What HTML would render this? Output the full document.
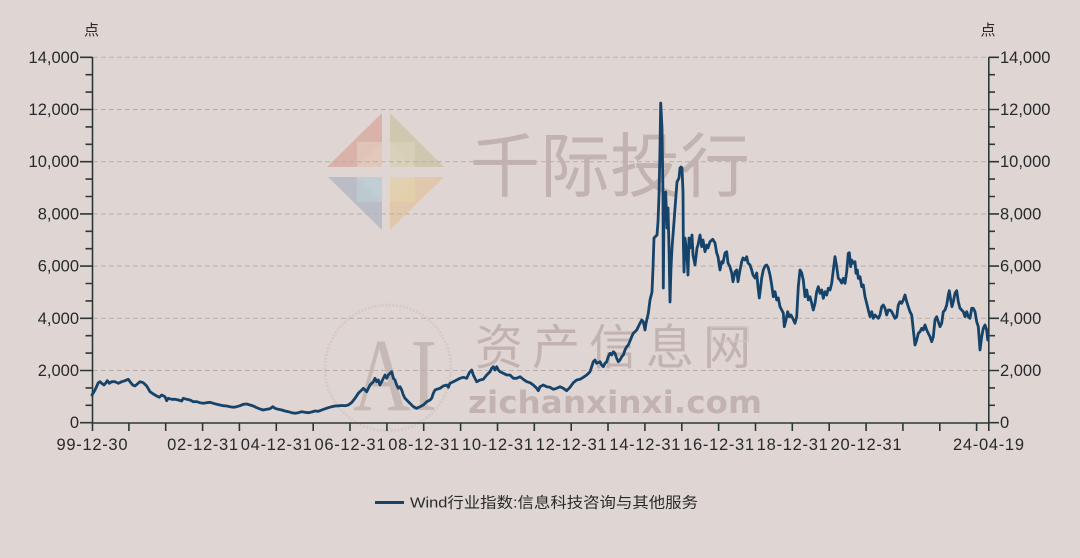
<!DOCTYPE html>
<html>
<head>
<meta charset="utf-8">
<style>
  html, body { margin:0; padding:0; background:#dfd6d3; }
  svg { display:block; }
  .ax { font-family:"Liberation Sans","Noto Sans CJK SC",sans-serif; font-size:16.5px; fill:#262a2a; }
</style>
</head>
<body>
<svg width="1080" height="558" viewBox="0 0 1080 558" xmlns="http://www.w3.org/2000/svg">
  <rect x="0" y="0" width="1080" height="558" fill="#dfd6d3"/>

  <!-- Watermark logo -->
  <g opacity="0.85">
    <polygon points="327,167 382,113 382,142 357,167" fill="#d8aca2"/>
    <rect x="357" y="142" width="25" height="25" fill="#e2c4b2" opacity="0.9"/>
    <polygon points="390,113 444,167 415,167 390,142" fill="#cdc6a8"/>
    <rect x="390" y="142" width="25" height="25" fill="#d7d0b2" opacity="0.9"/>
    <polygon points="328,177 382,230 382,202 357,177" fill="#b4b9c4"/>
    <rect x="357" y="177" width="25" height="25" fill="#b7cad1" opacity="0.9"/>
    <polygon points="444,177 390,230 390,202 415,177" fill="#e2c6a6"/>
    <rect x="390" y="177" width="25" height="25" fill="#e3cfa5" opacity="0.9"/>
  </g>
  <text x="470" y="191" font-family="'Noto Sans CJK SC','WenQuanYi Zen Hei',sans-serif" font-size="70" fill="#c3b3b0">千际投行</text>

  <!-- AI watermark -->
  <circle cx="388" cy="368" r="63" fill="none" stroke="#d0c5c2" stroke-width="3" stroke-dasharray="2,1.5" opacity="0.7"/>
  <text x="353" y="410" font-family="'Liberation Serif',serif" font-size="104" fill="#c6b8b5" textLength="84" lengthAdjust="spacingAndGlyphs">AI</text>
  <text x="475" y="364" font-family="'Noto Sans CJK SC','WenQuanYi Zen Hei',sans-serif" font-size="48" letter-spacing="9" fill="#c3b3b0">资产信息网</text>
  <text x="468" y="413" font-family="'DejaVu Sans','Liberation Sans',sans-serif" font-size="31" font-weight="bold" fill="#c3b3b0" textLength="294" lengthAdjust="spacingAndGlyphs">zichanxinxi.com</text>
  <rect x="711" y="327" width="37" height="14" fill="none" stroke="#cfc4c1" stroke-width="2" opacity="0.7"/>

  <!-- Grid lines -->
  <g stroke="#b9aeab" stroke-width="1" stroke-dasharray="5,3">
    <line x1="93" y1="57.3" x2="988" y2="57.3"/>
    <line x1="93" y1="109.5" x2="988" y2="109.5"/>
    <line x1="93" y1="161.7" x2="988" y2="161.7"/>
    <line x1="93" y1="213.9" x2="988" y2="213.9"/>
    <line x1="93" y1="266.1" x2="988" y2="266.1"/>
    <line x1="93" y1="318.3" x2="988" y2="318.3"/>
    <line x1="93" y1="370.5" x2="988" y2="370.5"/>
  </g>

  <!-- Axes -->
  <g stroke="#2c3838" stroke-width="1.6" fill="none">
    <line x1="92.5" y1="57" x2="92.5" y2="423"/>
    <line x1="988.8" y1="57" x2="988.8" y2="423"/>
    <line x1="92" y1="423" x2="989" y2="423"/>
    <path d="M80 57.3H92.5M80 109.5H92.5M80 161.7H92.5M80 213.9H92.5M80 266.1H92.5M80 318.3H92.5M80 370.5H92.5M80 422.7H92.5"/>
    <path d="M85.5 74.7H92.5M85.5 92.1H92.5M85.5 126.9H92.5M85.5 144.3H92.5M85.5 179.1H92.5M85.5 196.5H92.5M85.5 231.3H92.5M85.5 248.7H92.5M85.5 283.5H92.5M85.5 300.9H92.5M85.5 335.7H92.5M85.5 353.1H92.5M85.5 387.9H92.5M85.5 405.3H92.5"/>
    <path d="M988.8 57.3H999M988.8 109.5H999M988.8 161.7H999M988.8 213.9H999M988.8 266.1H999M988.8 318.3H999M988.8 370.5H999M988.8 422.7H999"/>
    <path d="M988.8 74.7H995M988.8 92.1H995M988.8 126.9H995M988.8 144.3H995M988.8 179.1H995M988.8 196.5H995M988.8 231.3H995M988.8 248.7H995M988.8 283.5H995M988.8 300.9H995M988.8 335.7H995M988.8 353.1H995M988.8 387.9H995M988.8 405.3H995"/>
    <path d="M92.5 423V431M128.9 423V431M165.7 423V431M202.6 423V431M239.4 423V431M276.3 423V431M313.2 423V431M350 423V431M386.9 423V431M423.7 423V431M460.6 423V431M497.5 423V431M534.3 423V431M571.2 423V431M608 423V431M644.9 423V431M681.8 423V431M718.6 423V431M755.5 423V431M792.3 423V431M829.2 423V431M866.1 423V431M902.9 423V431M939.8 423V431M976.6 423V431M988.8 423V431"/>
  </g>

  <!-- Y labels left -->
  <g class="ax" text-anchor="end">
    <text x="79" y="62.8">14,000</text>
    <text x="79" y="115">12,000</text>
    <text x="79" y="167.2">10,000</text>
    <text x="79" y="219.4">8,000</text>
    <text x="79" y="271.6">6,000</text>
    <text x="79" y="323.8">4,000</text>
    <text x="79" y="376">2,000</text>
    <text x="79" y="428.2">0</text>
  </g>
  <!-- Y labels right -->
  <g class="ax" text-anchor="start">
    <text x="1000" y="62.8">14,000</text>
    <text x="1000" y="115">12,000</text>
    <text x="1000" y="167.2">10,000</text>
    <text x="1000" y="219.4">8,000</text>
    <text x="1000" y="271.6">6,000</text>
    <text x="1000" y="323.8">4,000</text>
    <text x="1000" y="376">2,000</text>
    <text x="1000" y="428.2">0</text>
  </g>

  <!-- Units -->
  <text x="91.5" y="35" text-anchor="middle" font-family="'Noto Sans CJK SC','WenQuanYi Zen Hei',sans-serif" font-size="15" fill="#262a2a">点</text>
  <text x="988" y="35" text-anchor="middle" font-family="'Noto Sans CJK SC','WenQuanYi Zen Hei',sans-serif" font-size="15" fill="#262a2a">点</text>

  <!-- X labels -->
  <g class="ax">
    <text x="56.5" y="450" textLength="71" lengthAdjust="spacing">99-12-30</text>
    <text x="167.1" y="450" textLength="71" lengthAdjust="spacing">02-12-31</text>
    <text x="240.8" y="450" textLength="71" lengthAdjust="spacing">04-12-31</text>
    <text x="314.5" y="450" textLength="71" lengthAdjust="spacing">06-12-31</text>
    <text x="388.2" y="450" textLength="71" lengthAdjust="spacing">08-12-31</text>
    <text x="462" y="450" textLength="71" lengthAdjust="spacing">10-12-31</text>
    <text x="535.7" y="450" textLength="71" lengthAdjust="spacing">12-12-31</text>
    <text x="609.4" y="450" textLength="71" lengthAdjust="spacing">14-12-31</text>
    <text x="683.1" y="450" textLength="71" lengthAdjust="spacing">16-12-31</text>
    <text x="756.8" y="450" textLength="71" lengthAdjust="spacing">18-12-31</text>
    <text x="830.6" y="450" textLength="71" lengthAdjust="spacing">20-12-31</text>
    <text x="953" y="450" textLength="71" lengthAdjust="spacing">24-04-19</text>
  </g>

  <!-- Series -->
  <polyline fill="none" stroke="#16436a" stroke-width="2.8" stroke-linejoin="round" stroke-linecap="round" points="
92,395 95,390 98.3,382.7 100,381.7 101.7,383.3 104,385 106,382.7 107.3,380.7 109.3,383.3 111.7,381.7 115,381.7 118.3,383.3 121.7,381.7 125,380.7 128.3,379.3 130,381.7 132.7,385 135,386 137.3,384 140,381.7 143.3,382.7 146.7,386 150,391.7 153.3,394 156.7,396 159.3,397.3 161.7,395 165,396.7 166.7,400.7 168.3,398.3 171.7,399.3 175,399.3 178.3,400 181.7,401 183.3,398.3 186.7,399.3 190,400 193.3,401.7 196.7,401.7 200,402.7 203.3,403.3 206.7,402.7 210,402.3 213.3,403.3 216.7,404.3 220,405 223.3,405.7 226.7,406 230,406.7 233.3,407.3 236.7,406.7 240,405.7 243.3,404.3 246.7,404 250,405 253.3,406 256.7,407.7 260,409 263.3,410 266.7,409.3 270,408.7 272.7,406.7 275,408.3 278.3,409.3 281.7,410 285,411 288.3,411.7 291.7,412.7 295,413.3 298.3,412.7 301.7,411.7 305,412.3 308.3,412.7 311.7,412 315,411 318.3,411.3 321.7,410 325,408.8 328.3,407.7 331.7,406.7 335,406 338.3,405.8 341.7,405.5 345,405.7 348.3,405 351.7,402.5 355,398.3 358.3,393.3 361.7,390 363.3,388.3 366.7,391.7 370,385 373.3,381.7 375,378.3 376.7,381.7 378.3,380 380,385 381.7,381.7 383.3,378.3 385,375 386.7,378.3 388.3,375 390,373.3 391.7,371.7 393.3,378.3 395,380 396.7,385 398.3,388.3 400,386.7 401.7,390 403.3,395 405,398.3 406.7,400 408.3,401.7 410,403.3 413.3,406.7 416.7,408.3 420,406.7 423.3,405 426.7,401.7 430,400 431.7,398.3 433.3,393.3 435,390 436.7,389.3 440,388.3 443.3,386 446.7,385 448.3,387.3 450,383.3 453.3,381.7 456.7,380 460,378.3 463.3,377.3 466.7,378.3 469.3,372.7 471.7,370 473.3,375 476.7,381.7 480,380 483.3,379.3 486.7,375 490,371.7 491.7,368.3 493.3,366.7 495,370 496.7,366.7 498.3,370 500,371.7 503.3,373.3 506.7,375 510,375 513.3,378.3 516.7,378.3 520,376.7 523.3,379.3 526.7,381.7 530,382.7 533.3,385 536.7,388.3 538.3,390.7 540,386.7 543.3,385 546.7,386.7 550,387.3 553.3,389.3 556.7,388.3 560,386.7 563.3,388.3 566.7,390.7 570,387.3 573.3,382.7 576.7,380 580,379.3 583.3,377.3 586.7,375 590,371.7 591.7,366.7 593.3,361.7 595,360 596.7,363.3 600,361.7 601.7,365 603.3,366.7 605,363.3 606.7,361.7 608.3,356.7 610,353.3 611.7,355 613.3,351.7 615,353.3 616.7,358.3 618.3,361.7 620,360 621.7,356.7 623.3,355 625,350 626.7,346.7 628.3,345 630,341 631.7,336.7 633.3,333.3 635,331.7 636.7,330 638.3,326.7 640,323.3 641.7,320 643.3,321.7 645,330 646,323.3 648.3,313.3 650,300 652,292 653,268 654,238 657,235 658,222 659,195 660,148 660.7,103 662,128 663,195 663.3,288 664,212 665.7,192 667,228 668,208 669,248 670,302 671,268 672,248 674,222 676,195 677,182 679,178 680,168 681,167 682,168 683,192 683.3,238 684,272 685,238 687,255 688,275 689,238 690,248 692,235 693,255 695,265 697,248 698,245 700,235 701.7,246.7 703,240 705,251.7 706.7,245 708,248 710,241.7 712.7,239.3 715,243 716.7,253 718,256.7 720,270 721.7,261.7 723,263 725,253 726.7,251.7 728,263 730,266.7 731.7,273 733,281.7 735,271.7 736.7,270 738,281.7 740,270 741.7,261.7 743,258 745,260 746.7,256.7 748,263 750,265 751.7,270 753,275 755,278 756.7,273 758,286.7 759.3,298 760.7,286.7 761.7,278 763.3,270 765,266 766.7,265 768.3,268 770,275 771.7,285 773.3,296.7 775,291.7 776.7,300 778.3,298 780,306.7 781.7,310 783.3,313 784.3,326.7 786,320 787.7,311.7 789.3,316.7 791,315 792.7,318.3 795,323.3 796.7,316.7 798.3,286.7 800,270 801.7,273 803.3,280 805,296.7 806.7,290 808.3,300 810,296.7 811.7,303.3 813.3,310 815,303.3 816.7,291.7 818.3,286.7 820,293.3 821.7,290 823.3,298.3 825,291.7 826.7,295 828.3,288.3 830,290 831.7,283.3 833.3,270 835,256.7 836.7,266.7 838.3,278.3 840,280 841.7,283 843.3,278.3 845,283.3 846.7,271.7 848.3,253.3 849.3,252.7 850.7,266.7 851.7,260 853.3,263.3 855,261.7 856,273.3 857.3,270 858.3,278.3 860,276.7 861.7,286.7 863.3,285 865,296.7 866.7,303.3 868.3,310 870,316.7 871.7,311.7 873.3,318.3 875,315 876.7,316.7 878.3,318.3 880,315 881.7,306.7 883.3,305 885,308.3 886.7,315 888.3,310 890,310 891.7,311.7 893.3,315 895,318.3 896.7,316.7 898.3,305 900,301.7 901.7,303.3 903.3,300 905,295 906.7,301.7 908.3,306.7 910,311.7 911.7,315 913.3,330 915,345 916.7,340 918.3,333.3 920,331.7 921.7,328.3 923.3,330 925,325 926.7,330 928.3,333.3 930,336.7 931.7,341.7 933.3,336.7 935,320 936.7,316.7 938.3,321.7 940,326.7 941.7,323.3 943.3,311.7 945,310 946.7,305 948.3,295 949.3,290.7 950.7,300 952,306.7 953.3,301.7 955,293.3 956.7,290.7 958.3,301.7 960,308.3 961.7,310 963.3,311.7 965,316.7 966.7,311.7 968.3,316.7 970,318.3 971.7,308.3 973.3,308.3 975,311.7 976.7,321.7 978.3,326.7 980,350 981.7,336.7 983.3,328.3 985,325 986.7,330 987.7,340"/>

  <!-- Legend -->
  <line x1="375" y1="502.5" x2="404" y2="502.5" stroke="#16436a" stroke-width="3"/>
  <text x="410" y="507.5" font-family="'Liberation Sans','Noto Sans CJK SC',sans-serif" font-size="15" fill="#2a2a2a" textLength="288" lengthAdjust="spacingAndGlyphs">Wind行业指数:信息科技咨询与其他服务</text>
</svg>
</body>
</html>
